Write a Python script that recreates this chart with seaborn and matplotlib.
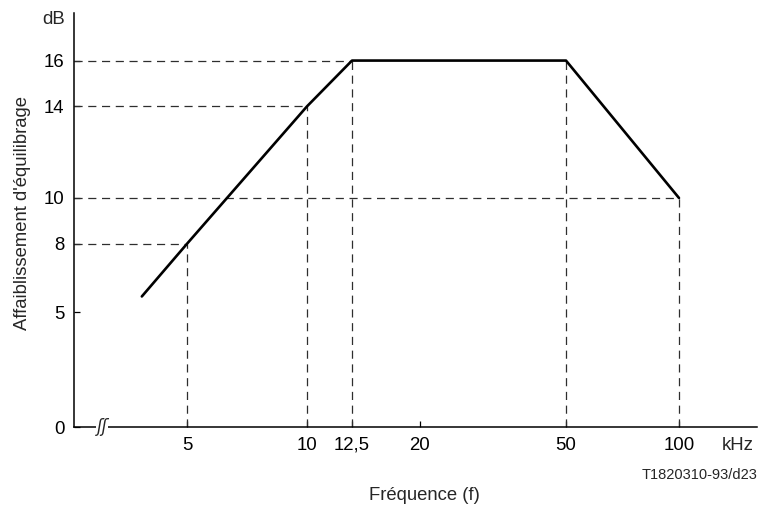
import numpy as np
import pandas as pd
import matplotlib
matplotlib.use("Agg")
import matplotlib.pyplot as plt
import seaborn as sns

freq_khz = [3.85, 5, 10, 12.5, 50, 100]
attn_db = [5.7, 8, 14, 16, 16, 10]
x_ticks = [5, 10, 12.5, 20, 50, 100]
x_tick_labels = ["5", "10", "12,5", "20", "50", "100"]
y_ticks = [0, 5, 8, 10, 14, 16]

sns.set_style("ticks")
plt.rcParams['font.family'] = ['Liberation Sans', 'DejaVu Sans']

# échelle de fréquence du schéma (approx. log, non uniforme)
knot_f = np.log10([2.6, 5, 10, 12.5, 20, 50, 100, 161])
knot_p = np.array([0, 113, 233, 278, 346, 492, 605, 683], dtype=float)

def fwd(x):
    x = np.maximum(np.asarray(x, dtype=float), 1e-6)
    return np.interp(np.log10(x), knot_f, knot_p)

def inv(p):
    return 10 ** np.interp(np.asarray(p, dtype=float), knot_p, knot_f)

fig = plt.figure(figsize=(7.62, 5.13), dpi=100)
ax = fig.add_axes([74 / 762, 1 - 427 / 513, 683 / 762, (427 - 12.7) / 513])
ax.set_xscale('function', functions=(fwd, inv))
ax.set_xlim(2.6, 161)
ax.set_ylim(0, 18.09)

df = pd.DataFrame({'f': freq_khz, 'a': attn_db})

# lignes de rappel en tirets
dash = dict(color='#2e2e2e', lw=0.9, ls=(0, (6.5, 4.5)), zorder=1)
for f, a in zip(freq_khz[1:], attn_db[1:]):
    ax.plot([f, f], [0, a], **dash)
    if f != 50:
        ax.plot([2.6, f], [a, a], **dash)

sns.lineplot(data=df, x='f', y='a', sort=False, color='black', lw=1.9,
             ax=ax, zorder=3)

ax.set_xticks(x_ticks)
ax.set_xticklabels(x_tick_labels)
ax.set_yticks(y_ticks)
ax.minorticks_off()
ax.tick_params(direction='in', length=4.5, width=0.9, labelsize=13.4, pad=7,
               color='black', labelcolor='black')
ax.set_xlabel('')
ax.set_ylabel('')
sns.despine(ax=ax)
for s in ['left', 'bottom']:
    ax.spines[s].set_linewidth(1.1)
    ax.spines[s].set_color('black')

# symbole de coupure de l'axe
ax.text(0.041, 0.0, 'ʃʃ', transform=ax.transAxes, ha='center', va='center',
        fontsize=12, family='DejaVu Sans', style='italic',
        bbox=dict(fc='white', ec='none', pad=0.3), zorder=5, clip_on=False)

fig.text(54 / 762, 1 - 20 / 513, 'dB', ha='center', va='center', fontsize=13.4)
fig.text(738 / 762, 1 - 446 / 513, 'kHz', ha='center', va='center', fontsize=13.4)
fig.text(757 / 762, 1 - 475 / 513, 'T1820310-93/d23', ha='right', va='center',
         fontsize=10.5)
fig.text(424 / 762, 1 - 495 / 513, 'Fréquence (f)', ha='center', va='center',
         fontsize=13.3)
fig.text(23 / 762, 1 - 213 / 513, "Affaiblissement d'équilibrage", ha='center',
         va='center', rotation=90, fontsize=13.3)

fig.savefig('out.png', dpi=100)
